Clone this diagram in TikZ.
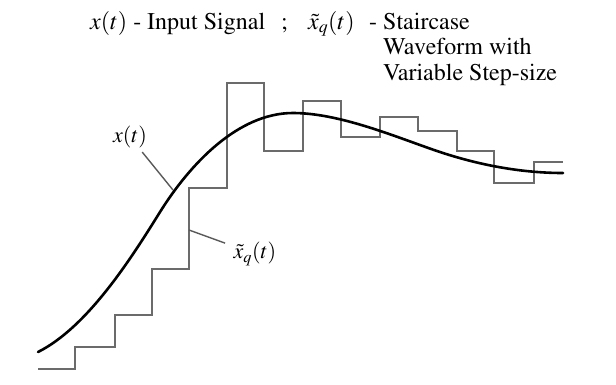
\documentclass[tikz,border=0pt]{standalone}
\usepackage[T1]{fontenc}
\usepackage{mathptmx}
\usetikzlibrary{positioning}

\begin{document}
\begin{tikzpicture}[x=1pt,y=-1pt]
  \tikzstyle{signal}=[line width=2.6pt,black,line cap=round]
  \tikzstyle{stairs}=[line width=1.8pt,black!58,line join=miter]
  \tikzstyle{leader}=[line width=1.4pt,black!65]
  \tikzstyle{lbl}=[inner sep=0pt,font=\fontsize{22}{26}\selectfont]
  \tikzstyle{title}=[inner sep=0pt,anchor=base west,font=\fontsize{24}{25.5}\selectfont]
  \useasboundingbox (0,0) rectangle (616,384);
  % heading
  \node[title] (head) at (90,29) {$x(t)$ - Input Signal};
  \node[title] (semi) at (281,29) {;};
  \node[title] (xqhead) at (308,29) {$\tilde{x}_q(t)$};
  \node[title] (stc) at (383,29) {\llap{- }Staircase};
  \node[title] (wav) at (383,54.5) {Waveform with};
  \node[title] (var) at (383,80) {Variable Step-size};
  % staircase approximation
  \draw[stairs] (38,369) -- (75,369) -- (75,347) -- (115,347) -- (115,315) -- (152,315)
    -- (152,269) -- (189,269) -- (189,188) -- (227,188) -- (227,83) -- (264,83)
    -- (264,151) -- (303,151) -- (303,101) -- (341,101) -- (341,137) -- (380,137)
    -- (380,117) -- (418,117) -- (418,131) -- (457,131) -- (457,151) -- (494,151)
    -- (494,183) -- (534,183) -- (534,162) -- (563,162);
  % input signal
  \draw[signal] (38,352) .. controls (88,327) and (132,257) .. (160,212)
    .. controls (190,164) and (238,113) .. (293,113)
    .. controls (340,113) and (397,137.4) .. (437,151)
    .. controls (482,166.3) and (525,173) .. (563,173);
  % labels
  \coordinate (xon) at (173,190);
  \coordinate (xqon) at (189,230);
  \node[lbl] (xlab) at (130,137) {$x(t)$};
  \node[lbl] (xqlab) at (255,254) {$\tilde{x}_q(t)$};
  \draw[leader,shorten <=5pt] (xlab) -- (xon);
  \draw[leader,shorten <=9pt] (xqlab) -- (xqon);
\end{tikzpicture}
\end{document}
